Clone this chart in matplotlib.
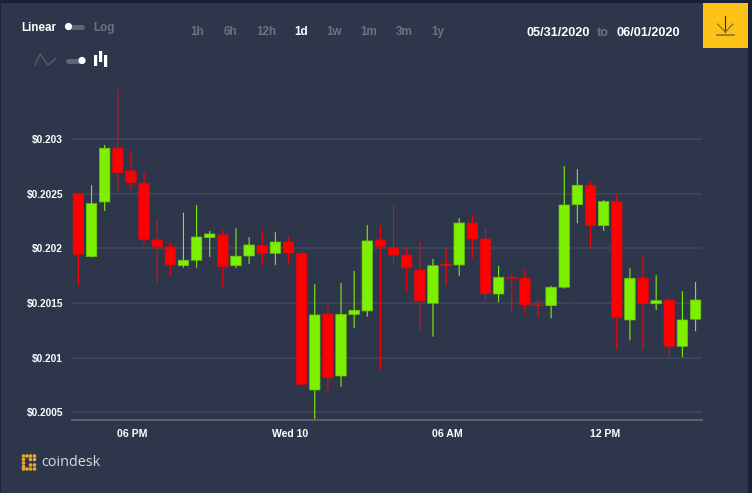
"""Half-hourly candlestick price panel with the control strip around it."""

import matplotlib

matplotlib.use("Agg")

import matplotlib.pyplot as plt
from matplotlib.collections import LineCollection
from matplotlib.patches import Arc, Circle, Rectangle
from matplotlib.transforms import ScaledTranslation

WIDTH, HEIGHT = 752, 493
DPI = 100

BG = "#2e364b"
EDGE = "#1a2038"
GRID = "#3e4558"
BASE = "#5b6172"
MUTED = "#6d7282"
RED = "#ff0000"
RED_EDGE = "#d80a10"
GREEN = "#7cf000"
GREEN_EDGE = "#68c40c"
YELLOW = "#fdc217"
PATTERN = "#31394e"

opens = [
    0.202505, 0.201925, 0.202426, 0.202918, 0.202710, 0.202597, 0.202078, 0.202014,
    0.201842, 0.201892, 0.202099, 0.202124, 0.201842, 0.201931, 0.202029, 0.201956,
    0.202059, 0.201956, 0.200704, 0.201400, 0.200832, 0.201394, 0.201428, 0.202078,
    0.202011, 0.201940, 0.201803, 0.201498, 0.201858, 0.201849, 0.202233, 0.202087,
    0.201583, 0.201736, 0.201727, 0.201483, 0.201476, 0.201645, 0.202401, 0.202579,
    0.202209, 0.202429, 0.201345, 0.201730, 0.201494, 0.201528, 0.201104, 0.201352,
]
closes = [
    0.201947, 0.202410, 0.202918, 0.202694, 0.202603, 0.202084, 0.202014, 0.201849,
    0.201892, 0.202105, 0.202133, 0.201833, 0.201929, 0.202032, 0.201956, 0.202059,
    0.201959, 0.200756, 0.201391, 0.200820, 0.201397, 0.201434, 0.202069, 0.202020,
    0.201940, 0.201824, 0.201519, 0.201842, 0.201842, 0.202233, 0.202087, 0.201586,
    0.201736, 0.201723, 0.201483, 0.201476, 0.201645, 0.202398, 0.202579, 0.202209,
    0.202429, 0.201366, 0.201727, 0.201494, 0.201522, 0.201104, 0.201345, 0.201528,
]
highs = [
    0.202505, 0.202581, 0.202948, 0.203451, 0.202902, 0.202698, 0.202261, 0.202059,
    0.202328, 0.202398, 0.202160, 0.202169, 0.202185, 0.202103, 0.202167, 0.202148,
    0.202105, 0.201986, 0.201672, 0.201483, 0.201684, 0.201794, 0.202215, 0.202206,
    0.202392, 0.202007, 0.202062, 0.201904, 0.201998, 0.202277, 0.202313, 0.202185,
    0.201840, 0.201773, 0.201803, 0.201528, 0.201659, 0.202755, 0.202728, 0.202618,
    0.202444, 0.202505, 0.201821, 0.201938, 0.201755, 0.201556, 0.201608, 0.201693,
]
lows = [
    0.201659, 0.201916, 0.202343, 0.202520, 0.202538, 0.202041, 0.201681, 0.201757,
    0.201824, 0.201824, 0.201922, 0.201650, 0.201821, 0.201858, 0.201849, 0.201849,
    0.201864, 0.200750, 0.200429, 0.200689, 0.200734, 0.201269, 0.201375, 0.200887,
    0.201864, 0.201604, 0.201251, 0.201192, 0.201663, 0.201748, 0.201907, 0.201528,
    0.201510, 0.201428, 0.201403, 0.201375, 0.201361, 0.201632, 0.202231, 0.202002,
    0.202160, 0.201073, 0.201159, 0.201077, 0.201437, 0.201015, 0.201006, 0.201242,
]

price_ticks = [0.2005, 0.201, 0.2015, 0.202, 0.2025, 0.203]
price_labels = ["$0.2005", "$0.201", "$0.2015", "$0.202", "$0.2025", "$0.203"]
time_ticks = [4, 16, 28, 40]
time_labels = ["06 PM", "Wed 10", "06 AM", "12 PM"]
ranges = ["1h", "6h", "12h", "1d", "1w", "1m", "3m", "1y"]
range_centres = [197, 230, 266, 301, 334, 369, 404, 438]

plt.rcParams["font.family"] = ["Liberation Sans", "DejaVu Sans"]

fig = plt.figure(figsize=(WIDTH / DPI, HEIGHT / DPI), dpi=DPI, facecolor=BG)


def px_axes(left, top, right, bottom):
    return fig.add_axes([
        left / WIDTH,
        1 - bottom / HEIGHT,
        (right - left) / WIDTH,
        (bottom - top) / HEIGHT,
    ])


def overlay():
    layer = px_axes(0, 0, WIDTH, HEIGHT)
    layer.set_xlim(0, WIDTH)
    layer.set_ylim(HEIGHT, 0)
    layer.axis("off")
    layer.patch.set_alpha(0)
    return layer


# Faint network pattern behind the chart
back = overlay()
for x, y, r in [(687, 295, 22), (550, 295, 22), (688, 426, 22)]:
    back.add_patch(Circle((x, y), r, facecolor="none", edgecolor=PATTERN, linewidth=0.7))
for x, y, r, start, end in [
    (480, 350, 50, 0, 180),
    (552, 420, 48, 180, 450),
    (618, 200, 32, 180, 360),
    (680, 130, 50, -30, 110),
    (420, 500, 60, 200, 330),
]:
    back.add_patch(Arc((x, y), 2 * r, 2 * r, theta1=start, theta2=end, edgecolor=PATTERN, linewidth=0.7))

# Candles
ax = px_axes(72, 60, 702, 420)
ax.patch.set_alpha(0)
ax.set_xlim(-0.4875, 47.49)
ax.set_ylim(0.200429, 0.203726)
for side in ["top", "right", "left"]:
    ax.spines[side].set_visible(False)
ax.spines["bottom"].set_color(BASE)
ax.spines["bottom"].set_linewidth(1.5)

ax.set_yticks(price_ticks, price_labels)
ax.set_xticks(time_ticks, time_labels)
ax.tick_params(axis="both", length=0, colors="white", labelsize=7.3)
ax.tick_params(axis="y", pad=6.5)
ax.tick_params(axis="x", pad=6.5, labelsize=7.6)
shift = ScaledTranslation(1.2 / DPI, 0, fig.dpi_scale_trans)
for label in ax.get_xticklabels():
    label.set_fontweight("bold")
    label.set_transform(label.get_transform() + shift)
for label in ax.get_yticklabels():
    label.set_fontweight("bold")
ax.grid(axis="y", color=GRID, linewidth=1.4, zorder=0)
ax.set_axisbelow(True)

for i, (o, h, l, c) in enumerate(zip(opens, highs, lows, closes)):
    rising = c >= o
    colour = GREEN if rising else RED
    wick = LineCollection([[(i, l), (i, h)]], colors=colour, linewidths=0.8, zorder=2)
    wick.set_snap(False)
    ax.add_collection(wick)
    body = Rectangle(
        (i - 0.4, min(o, c)), 0.8, abs(c - o),
        facecolor=colour, edgecolor=GREEN_EDGE if rising else RED_EDGE, linewidth=0.5, zorder=3,
    )
    body.set_snap(False)
    ax.add_patch(body)

# Controls and frame are laid out in pixels on a full-size overlay
ui = overlay()

ui.add_patch(Rectangle((0, 0), WIDTH, 3, facecolor=EDGE, edgecolor="none"))
ui.add_patch(Rectangle((748, 0), 4, HEIGHT, facecolor=EDGE, edgecolor="none"))
ui.add_patch(Rectangle((0, 0), 1, HEIGHT, facecolor=EDGE, edgecolor="none"))

text_style = {"ha": "center", "va": "baseline", "fontweight": "bold"}

ui.text(21.5, 31, "Linear", color="white", fontsize=8.4, ha="left", va="baseline", fontweight="bold")
ui.text(93.5, 31, "Log", color=MUTED, fontsize=8.4, ha="left", va="baseline", fontweight="bold")
ui.plot([68, 82], [26.5, 26.5], color="#5e6475", linewidth=3.6, solid_capstyle="round")
ui.add_patch(Circle((68.5, 26.5), 3.6, facecolor="white", edgecolor="none", zorder=3))

ui.plot([35, 40, 48, 56], [65, 54, 65, 58], color="#5f6576", linewidth=0.8)
ui.plot([68, 82], [60.5, 60.5], color="#5e6475", linewidth=3.6, solid_capstyle="round")
ui.add_patch(Circle((82, 60.5), 3.6, facecolor="white", edgecolor="none", zorder=3))
for left, top, bottom in [(94, 55, 66), (99, 51, 62), (104, 55, 67)]:
    bar = Rectangle((left, top), 3.2, bottom - top, facecolor="white", edgecolor="none")
    bar.set_snap(False)
    ui.add_patch(bar)

for name, centre in zip(ranges, range_centres):
    ui.text(centre, 35, name, color="white" if name == "1d" else MUTED, fontsize=8.4, **text_style)

ui.text(558.5, 35.5, "05/31/2020", color="white", fontsize=9.1, **text_style)
ui.text(602.5, 35.5, "to", color=MUTED, fontsize=9.1, **text_style)
ui.text(648, 35.5, "06/01/2020", color="white", fontsize=9.1, **text_style)

# Download button
ui.add_patch(Rectangle((703, 3), 45, 45, facecolor=YELLOW, edgecolor="none"))
ui.plot([725.3, 725.3], [16, 32], color="#2a2a30", linewidth=0.8)
ui.plot([717.5, 725.3, 733], [24, 32, 24], color="#7a6a28", linewidth=0.8)
ui.plot([717, 734], [35, 35], color="#7a6a28", linewidth=1.1)

# Logo mark: dotted bracket shape beside the wordmark
for x, y in [
    (23.5, 456), (27, 456), (30.5, 456), (34.5, 456),
    (23.5, 459.5), (23.5, 463), (23.5, 466.5), (23.5, 469),
    (27, 469), (30.5, 469), (34.5, 469),
    (30.5, 459.5), (34.5, 459.5), (30.5, 465), (34.5, 465),
]:
    ui.add_patch(Circle((x, y), 1.8, facecolor="#e9a825", edgecolor="none"))
ui.text(41, 462, "coindesk", color="#d8dade", fontsize=10.4, ha="left", va="center", family="Open Sans")

fig.savefig("out.png", dpi=DPI, facecolor=BG)
